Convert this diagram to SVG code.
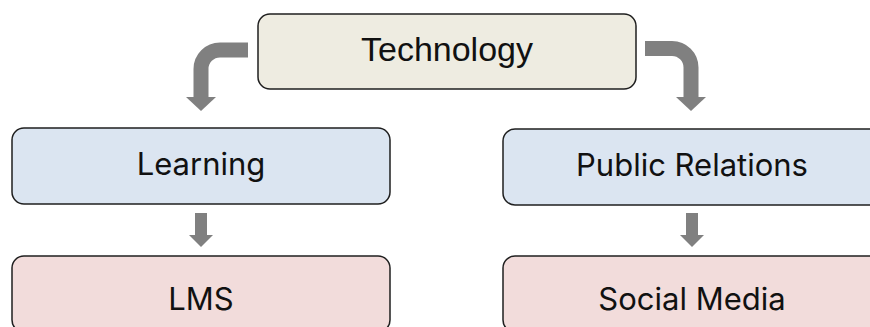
<svg xmlns="http://www.w3.org/2000/svg" width="870" height="327" viewBox="0 0 870 327">
  <style>
    .box { stroke: #1f1f1f; stroke-width: 1.5; }
    .tan { fill: #eeece1; }
    .blue { fill: #dbe5f1; }
    .rose { fill: #f2dcdb; }
    .label { font-family: Inter, "Liberation Sans", sans-serif; font-size: 31px; fill: #111; text-anchor: middle; }
    .title { font-family: "Liberation Sans", Arial, sans-serif; font-size: 34px; fill: #111; text-anchor: middle; }
    .bend { fill: none; stroke: #808080; stroke-width: 15; stroke-linecap: butt; }
    .head { fill: #808080; }
  </style>
  <rect width="870" height="327" fill="#ffffff"/>

  <!-- connectors -->
  <g id="connectors">
    <path class="bend" d="M248,50 H220 A19,19 0 0 0 201,69 V98"/>
    <polygon class="head" points="186,97 216,97 201,111"/>
    <path class="bend" d="M645,48.5 H672 A19,19 0 0 1 691,67.5 V98"/>
    <polygon class="head" points="676,97 706,97 691,111"/>
    <rect class="head" x="195" y="213" width="12" height="23"/>
    <polygon class="head" points="189,235 213,235 201,247"/>
    <rect class="head" x="686" y="213" width="12" height="23"/>
    <polygon class="head" points="680,235 704,235 692,247"/>
  </g>

  <g id="technology">
    <rect class="box tan" x="258" y="14" width="378" height="75" rx="12"/>
    <text class="title" x="447" y="61">Technology</text>
  </g>

  <g id="learning">
    <rect class="box blue" x="12" y="128" width="378" height="76" rx="12"/>
    <text class="label" x="201" y="175">Learning</text>
  </g>

  <g id="public-relations">
    <rect class="box blue" x="503" y="129" width="378" height="76" rx="12"/>
    <text class="label" x="692" y="176">Public Relations</text>
  </g>

  <g id="lms">
    <rect class="box rose" x="12" y="256" width="378" height="76" rx="12"/>
    <text class="label" x="201" y="310">LMS</text>
  </g>

  <g id="social-media">
    <rect class="box rose" x="503" y="256" width="378" height="76" rx="12"/>
    <text class="label" x="692" y="310">Social Media</text>
  </g>
</svg>
